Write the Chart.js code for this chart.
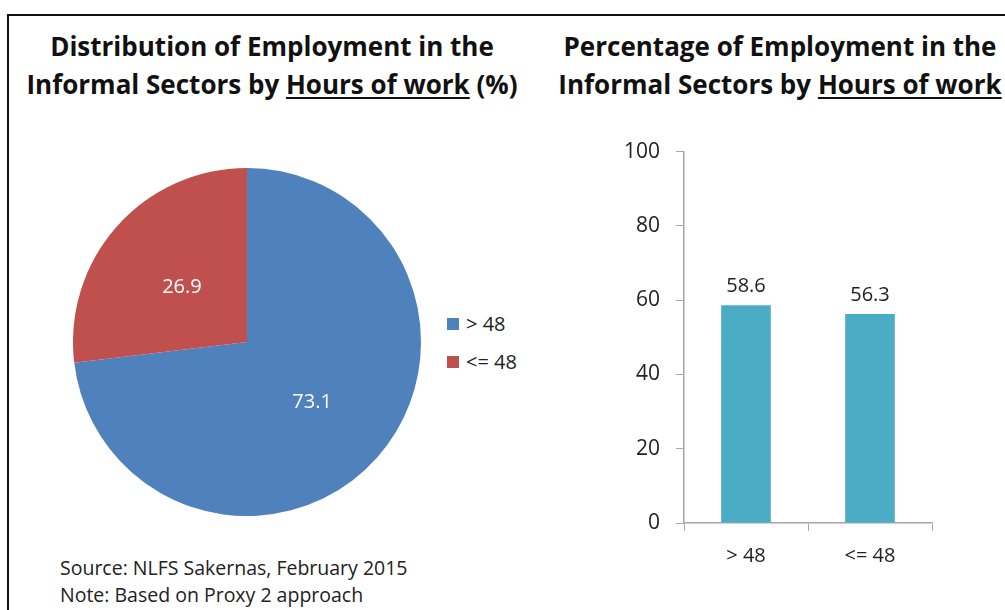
<!DOCTYPE html>
<html>
<head>
<meta charset="utf-8">
<script src="https://cdn.jsdelivr.net/npm/chart.js@4.4.1/dist/chart.umd.min.js"></script>
<style>
  html, body { margin: 0; padding: 0; background: #fff; }
  body { width: 1005px; height: 610px; position: relative; overflow: hidden; font-family: "Open Sans", Lato, sans-serif; color: #111; }
  .frame { position: absolute; left: 7px; top: 14px; width: 1100px; height: 700px; border-top: 2px solid #111; border-left: 2px solid #111; }
  .title { position: absolute; font-weight: bold; font-size: 26px; line-height: 38px; text-align: center; white-space: nowrap; color: #111; }
  .title u { text-decoration-thickness: 2px; text-underline-offset: 3px; }
  #pieTitle { left: 22px; top: 27px; width: 500px; }
  #barTitle { left: 530px; top: 27px; width: 500px; }
  .legend { position: absolute; left: 447px; top: 305px; font-size: 20px; color: #222; }
  .legend .item { height: 38px; line-height: 28px; display: flex; align-items: center; }
  .legend .sw { width: 12px; height: 12px; margin-right: 7px; }
  .note { position: absolute; left: 60px; top: 554px; font-size: 19.5px; line-height: 27px; color: #222; }
  canvas { position: absolute; }
  #pieBox { position: absolute; left: 73px; top: 168px; width: 348px; height: 348px; }
  #barBox { position: absolute; left: 600px; top: 123px; width: 340px; height: 460px; }
</style>
</head>
<body>
<div class="frame"></div>
<div class="title" id="pieTitle">Distribution of Employment in the<br>Informal Sectors by <u>Hours of work</u> (%)</div>
<div class="title" id="barTitle">Percentage of Employment in the<br>Informal Sectors by <u>Hours of work</u></div>
<div id="pieBox"><canvas id="pie"></canvas></div>
<div class="legend" id="legend"></div>
<div id="barBox"><canvas id="bar"></canvas></div>
<div class="note">Source: NLFS Sakernas, February 2015<br>Note: Based on Proxy 2 approach</div>
<script>
// Hours-of-work groups
const categories = ['> 48', '<= 48'];
// Share of informal employment in each group (%)
const distributionShares = [73.1, 26.9];
// Informal employment as a percentage of employment in each group
const informalPercentages = [58.6, 56.3];
// Value-axis ticks of the bar chart
const percentTicks = [0, 20, 40, 60, 80, 100];

const pieColors = ['#4F81BD', '#C0504D'];
const barColor = '#4BACC6';
const fontFamily = '"Open Sans", Lato, sans-serif';

// Legend for the pie
const legendEl = document.getElementById('legend');
categories.forEach((c, i) => {
  const item = document.createElement('div');
  item.className = 'item';
  const sw = document.createElement('span');
  sw.className = 'sw';
  sw.style.background = pieColors[i];
  const tx = document.createElement('span');
  tx.textContent = c;
  item.appendChild(sw);
  item.appendChild(tx);
  legendEl.appendChild(item);
});

// Writes each arc's value at its centroid
const pieLabels = {
  id: 'pieLabels',
  afterDatasetsDraw(chart) {
    const ctx = chart.ctx;
    const meta = chart.getDatasetMeta(0);
    ctx.save();
    ctx.font = '20px ' + fontFamily;
    ctx.fillStyle = '#ffffff';
    ctx.textAlign = 'center';
    ctx.textBaseline = 'middle';
    meta.data.forEach((arc, i) => {
      const p = arc.tooltipPosition();
      ctx.fillText(chart.data.datasets[0].data[i].toFixed(1), p.x, p.y + 3);
    });
    ctx.restore();
  }
};

// Writes each bar's value above it
const barLabels = {
  id: 'barLabels',
  afterDatasetsDraw(chart) {
    const ctx = chart.ctx;
    const meta = chart.getDatasetMeta(0);
    ctx.save();
    ctx.font = '20px ' + fontFamily;
    ctx.fillStyle = '#222';
    ctx.textAlign = 'center';
    ctx.textBaseline = 'alphabetic';
    meta.data.forEach((bar, i) => {
      ctx.fillText(chart.data.datasets[0].data[i].toFixed(1), bar.x, bar.y - 13);
    });
    ctx.restore();
  }
};

new Chart(document.getElementById('pie'), {
  type: 'pie',
  data: {
    labels: categories,
    datasets: [{
      data: distributionShares,
      backgroundColor: pieColors,
      borderWidth: 0
    }]
  },
  options: {
    responsive: true,
    maintainAspectRatio: false,
    animation: false,
    layout: { padding: 0 },
    plugins: { legend: { display: false }, tooltip: { enabled: false } }
  },
  plugins: [pieLabels]
});

new Chart(document.getElementById('bar'), {
  type: 'bar',
  data: {
    labels: categories,
    datasets: [{
      data: informalPercentages,
      backgroundColor: barColor,
      borderWidth: 0,
      categoryPercentage: 1.0,
      barPercentage: 0.4
    }]
  },
  options: {
    responsive: true,
    maintainAspectRatio: false,
    animation: false,
    layout: { padding: { top: 13, right: 8, left: 0, bottom: 0 } },
    plugins: { legend: { display: false }, tooltip: { enabled: false } },
    scales: {
      x: {
        offset: true,
        grid: { display: true, drawOnChartArea: false, drawTicks: true, tickLength: 8, color: '#a6a6a6', offset: true },
        border: { display: true, color: '#a6a6a6', width: 1.5 },
        ticks: { color: '#222', font: { family: fontFamily, size: 20 }, padding: 13 },
        afterFit(scale) { scale.height = 60; }
      },
      y: {
        min: 0,
        max: 100,
        afterBuildTicks(scale) { scale.ticks = percentTicks.map(v => ({ value: v })); },
        grid: { display: true, drawOnChartArea: false, drawTicks: true, tickLength: 8, color: '#a6a6a6' },
        border: { display: true, color: '#a6a6a6', width: 1.5 },
        ticks: { color: '#222', font: { family: fontFamily, size: 21 }, padding: 16 },
        afterFit(scale) { scale.width = 84; }
      }
    }
  },
  plugins: [barLabels]
});
</script>
</body>
</html>
